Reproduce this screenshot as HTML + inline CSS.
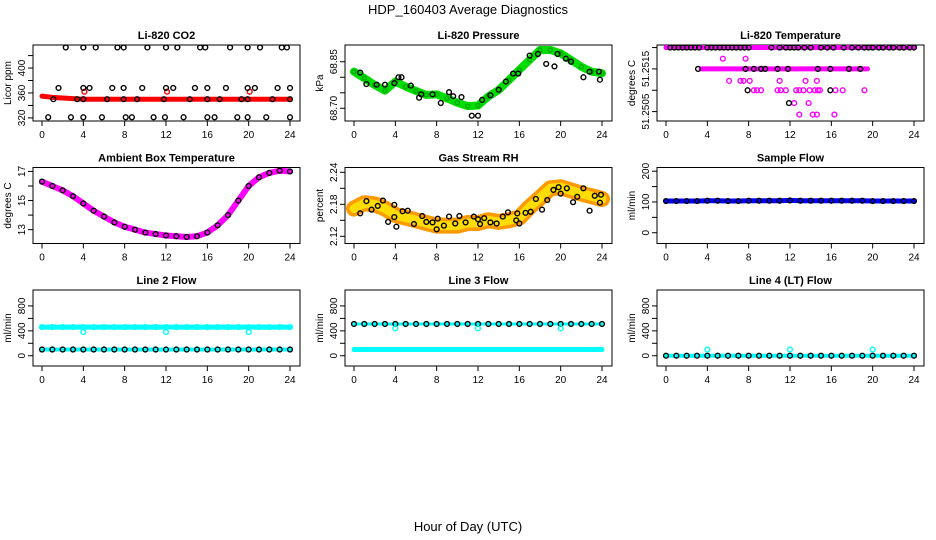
<!DOCTYPE html>
<html><head><meta charset="utf-8">
<style>
html,body{margin:0;padding:0;background:#fff;}
svg{display:block;font-family:"Liberation Sans",Arial,sans-serif;}
</style></head>
<body>
<svg id="c" width="936" height="540" viewBox="0 0 936 540">
<text x="468" y="14" text-anchor="middle" font-size="13">HDP_160403  Average Diagnostics</text>
<text x="468" y="531" text-anchor="middle" font-size="13">Hour of Day (UTC)</text>
</svg>
<script>
// ---------- data ----------
const hours = [0,1,2,3,4,5,6,7,8,9,10,11,12,13,14,15,16,17,18,19,20,21,22,23,24];
const xTickLabels = [0,4,8,12,16,20,24];

// CO2
const co2Red = [355,353,352,351,350,350,350,350,350,350,350,350,350,350,350,350,350,350,350,350,350,350,350,350,350];
const co2RedSpikeH = [4.1,12.1,20.1];
const co2RedSpikeV = [362,362,362];
const co2TopH = [2.3,4.0,5.2,7.3,7.9,10.2,12.0,13.1,15.3,15.8,18.2,19.9,21.1,23.2,23.7];
const co2TopV = 433;
const co2SqH = [1.6,4.0,4.6,6.8,7.9,9.7,12.0,12.7,14.8,16.0,17.8,19.9,20.6,22.8,24.0];
const co2SqV = 368;
const co2MidH = [1.1,3.4,4.0,6.3,7.9,9.2,11.8,14.3,16.0,17.2,19.3,19.9,22.3,24.0];
const co2MidV = 350;
const co2LowH = [0.6,2.8,4.0,5.8,8.1,8.7,10.8,11.9,13.7,16.0,16.7,18.9,19.9,21.7,24.0];
const co2LowV = 321;

// Pressure
const presGreen = [68.818,68.797,68.775,68.757,68.786,68.770,68.756,68.743,68.745,68.732,68.718,68.707,68.709,68.738,68.759,68.791,68.824,68.856,68.888,68.888,68.877,68.856,68.834,68.818,68.813];
const presBlackH = [0.6,1.2,2.2,3.0,3.9,4.3,4.6,5.5,6.3,6.5,7.6,8.4,9.2,9.6,10.4,11.4,12.0,12.4,13.2,14.0,14.7,15.4,15.9,17.0,17.8,18.6,19.4,19.7,20.5,21.0,22.2,22.8,23.7,23.8];
const presBlackV = [68.815,68.778,68.776,68.776,68.781,68.800,68.800,68.773,68.734,68.745,68.745,68.717,68.752,68.739,68.736,68.676,68.676,68.727,68.742,68.760,68.786,68.812,68.812,68.870,68.875,68.843,68.835,68.875,68.860,68.850,68.800,68.818,68.818,68.792];

// Li-820 temperature
const tLevels = [51.2520,51.25174,51.2515,51.25122,51.2510,51.2507,51.25043];
const tBlackTopH = [0.4,0.8,1.2,1.6,2.0,2.4,2.8,3.2,4.0,4.4,4.8,5.2,5.6,6.0,6.4,6.8,7.2,7.6,8.0,10.2,11.0,11.6,12.0,12.4,12.8,13.4,14.0,15.0,15.6,16.2,17.2,18.0,18.6,19.2,19.6,20.0,20.6,21.0,21.6,22.0,22.6,23.0,23.6,24.0];
const tMagTopRange = [0,24];
const tMag1515Range = [3.4,19.5];
const tBlack1515H = [3.1,7.7,8.5,9.2,9.6,10.8,11.8,14.7,15.9,17.7,18.8];
const tMag1517H = [5.5,7.7];
const tMag1512H = [6.1,7.2,7.5,8.1,11.0,13.5,14.6];
const tMag1510H = [8.5,8.8,9.2,10.8,11.1,11.6,12.6,12.9,13.3,13.9,14.4,14.7,14.9,16.4,17.1,19.2];
const tBlack1510H = [7.9,15.9];
const tMag1507H = [12.4,13.8];
const tBlack1507H = [11.9];
const tMag1504H = [12.9,14.2,14.6,16.3];

// Ambient box temperature
const ambient = [16.3,16.0,15.7,15.3,14.8,14.3,13.9,13.5,13.2,13.0,12.8,12.7,12.6,12.55,12.5,12.55,12.8,13.3,14.0,15.0,16.0,16.6,16.9,17.05,17.0];

// Gas stream RH
const rh = [2.172,2.182,2.180,2.172,2.160,2.155,2.150,2.145,2.140,2.140,2.140,2.145,2.145,2.150,2.147,2.150,2.155,2.175,2.192,2.210,2.212,2.206,2.200,2.195,2.190];
const rhBlackH = [0.6,1.2,1.7,2.3,2.8,3.3,3.9,3.9,4.1,4.7,5.2,5.8,6.6,7.0,7.6,8.0,8.1,8.7,9.2,9.8,10.2,10.8,11.6,12.0,12.2,12.6,13.2,13.8,14.4,14.9,15.7,15.8,16.0,16.6,17.1,17.6,18.2,18.7,19.3,19.8,20.0,20.6,21.2,21.6,22.2,22.8,23.3,23.8,23.9];
const rhBlackV = [2.163,2.186,2.170,2.177,2.187,2.147,2.179,2.156,2.138,2.167,2.168,2.143,2.158,2.147,2.146,2.133,2.153,2.140,2.157,2.144,2.158,2.146,2.157,2.152,2.143,2.154,2.146,2.144,2.157,2.165,2.150,2.163,2.144,2.164,2.166,2.190,2.170,2.188,2.207,2.212,2.200,2.210,2.184,2.194,2.210,2.168,2.196,2.183,2.198];

// Flows
const sampleFlow = [103,103,103,103,104,104,103,103,104,104,104,104,105,104,104,104,104,104,104,104,103,103,103,103,103];
const line2High = [460,460,460,460,460,460,460,460,460,460,460,460,460,460,460,460,460,460,460,460,460,460,460,460,460];
const line2DipH = [4,12,20];
const line2DipV = [380,380,380];
const line2Low = [100,100,100,100,100,100,100,100,100,100,100,100,100,100,100,100,100,100,100,100,100,100,100,100,100];
const line3High = [510,510,510,510,510,510,510,510,510,510,510,510,510,510,510,510,510,510,510,510,510,510,510,510,510];
const line3DipH = [4,12,20];
const line3DipV = [440,440,440];
const line3Low = [100,100,100,100,100,100,100,100,100,100,100,100,100,100,100,100,100,100,100,100,100,100,100,100,100];
const line4 = [0,0,0,0,0,0,0,0,0,0,0,0,0,0,0,0,0,0,0,0,0,0,0,0,0];
const line4SpikeH = [4,12,20];
const line4SpikeV = [100,100,100];

// ---------- drawing ----------
const svg = document.getElementById('c');
const NS = 'http://www.w3.org/2000/svg';
function mk(tag, attrs, parent){
  const e = document.createElementNS(NS, tag);
  for (const k in attrs) e.setAttribute(k, attrs[k]);
  (parent||svg).appendChild(e);
  return e;
}
function panel(col,row,title,ylab,ymin,ymax,ticks,labels,name){
  const L=33+312*col, R=300+312*col, T=45+122.5*row, B=121+122.5*row;
  const g = mk('g',{});
  
  
  const sx = h => 42+312*col + h*248/24;
  const sy = v => B - (v-ymin)/(ymax-ymin)*(B-T);
  const box = mk('rect',{x:L,y:T,width:R-L,height:B-T,fill:'none',stroke:'#000','stroke-width':1},g);
  
  
  const t = mk('text',{x:(L+R)/2,y:T-6,'text-anchor':'middle','font-size':11,'font-weight':'bold'},g);
  t.textContent = title;
  
  
  const yl = mk('text',{x:0,y:0,'text-anchor':'middle','font-size':10,transform:`translate(${L-22},${(T+B)/2}) rotate(-90)`},g);
  yl.textContent = ylab;
  
  
  xTickLabels.forEach(h=>{
    mk('line',{x1:sx(h),x2:sx(h),y1:B,y2:B+5,stroke:'#000'},g);
    const tx = mk('text',{x:sx(h),y:B+17,'text-anchor':'middle','font-size':10},g);
    tx.textContent = h;
    
    
  });
  ticks.forEach((v,i)=>{
    mk('line',{x1:L,x2:L-5,y1:sy(v),y2:sy(v),stroke:'#000'},g);
    if (labels[i]!==''){
      const ty = mk('text',{x:0,y:0,'text-anchor':'middle','font-size':10,transform:`translate(${L-8},${sy(v)}) rotate(-90)`},g);
      ty.textContent = labels[i];
      
      
    }
  });
  return {g,sx,sy};
}
function band(p,xs,ys,color,w,name){
  const pl = mk('polyline',{points:xs.map((h,i)=>p.sx(h)+','+p.sy(ys[i])).join(' '),fill:'none',stroke:color,'stroke-width':w,'stroke-linejoin':'round','stroke-linecap':'round'},p.g);
  
  
}
function pts(p,xs,ys,color,name,r){
  xs.forEach((h,i)=>{
    const v = Array.isArray(ys)?ys[i]:ys;
    const c = mk('circle',{cx:p.sx(h),cy:p.sy(v),r:r||2.4,fill:'none',stroke:color,'stroke-width':1.4},p.g);
    
    
  });
}

// Panel 1: CO2
let p = panel(0,0,'Li-820 CO2','Licor ppm',315,437,[320,340,360,380,400,420],['320','','360','','400',''],'co2');
band(p,hours,co2Red,'#f00',5,'co2-red-series');
pts(p,co2RedSpikeH,co2RedSpikeV,'#f00','co2-red-point');
pts(p,co2TopH,co2TopV,'#000','co2-black-point');
pts(p,co2SqH,co2SqV,'#000','co2-black-point');
pts(p,co2MidH,co2MidV,'#000','co2-black-point');
pts(p,co2LowH,co2LowV,'#000','co2-black-point');

// Panel 2: Pressure
p = panel(1,0,'Li-820 Pressure','kPa',68.659,68.904,[68.70,68.75,68.80,68.85],['68.70','','','68.85'],'pressure');
band(p,hours,presGreen,'#0d0',8,'pressure-green-series');
pts(p,hours,presGreen,'#0a0','pressure-green-point',2);
pts(p,presBlackH,presBlackV,'#000','pressure-black-point');

// Panel 3: Li-820 Temperature
p = panel(2,0,'Li-820 Temperature','degrees C',51.25028,51.25206,[51.2505,51.2510,51.2515,51.2520],['51.2505','','51.2515',''],'li820-temp');
band(p,tMagTopRange,[tLevels[0],tLevels[0]],'#f0f',5,'li820-temp-magenta-series');
band(p,tMag1515Range,[tLevels[2],tLevels[2]],'#f0f',5,'li820-temp-magenta-series');
pts(p,tBlackTopH,tLevels[0],'#000','li820-temp-black-point');
pts(p,tBlack1515H,tLevels[2],'#000','li820-temp-black-point');
pts(p,tMag1517H,tLevels[1],'#f0f','li820-temp-magenta-point');
pts(p,tMag1512H,tLevels[3],'#f0f','li820-temp-magenta-point');
pts(p,tMag1510H,tLevels[4],'#f0f','li820-temp-magenta-point');
pts(p,tBlack1510H,tLevels[4],'#000','li820-temp-black-point');
pts(p,tMag1507H,tLevels[5],'#f0f','li820-temp-magenta-point');
pts(p,tBlack1507H,tLevels[5],'#000','li820-temp-black-point');
pts(p,tMag1504H,tLevels[6],'#f0f','li820-temp-magenta-point');

// Panel 4: Ambient
p = panel(0,1,'Ambient Box Temperature','degrees C',12.05,17.27,[13,14,15,16,17],['13','','15','','17'],'ambient');
band(p,hours,ambient,'#f0f',6,'ambient-magenta-series');
pts(p,hours,ambient,'#000','ambient-black-point');

// Panel 5: Gas RH
p = panel(1,1,'Gas Stream RH','percent',2.1065,2.249,[2.12,2.15,2.18,2.21,2.24],['2.12','','2.18','','2.24'],'rh');
band(p,hours,rh,'#f90',16,'rh-orange-series');
band(p,hours,rh,'#fd0',9,'rh-yellow-series');
pts(p,rhBlackH,rhBlackV,'#000','rh-black-point');

// Panel 6: Sample flow
p = panel(2,1,'Sample Flow','ml/min',-35,212,[0,50,100,150,200],['0','','100','','200'],'sample-flow');
band(p,hours,sampleFlow,'#00f',5,'sample-flow-blue-series');
pts(p,hours,sampleFlow,'#000','sample-flow-black-point');

// Panel 7: Line 2
p = panel(0,2,'Line 2 Flow','ml/min',-165,1056,[0,200,400,600,800],['0','','400','','800'],'line2');
band(p,hours,line2High,'#0ff',5,'line2-cyan-series');
pts(p,hours,line2High,'#0ff','line2-cyan-point');
pts(p,line2DipH,line2DipV,'#0ff','line2-cyan-dip-point');
band(p,hours,line2Low,'#0ff',4,'line2-cyan-low-series');
pts(p,hours,line2Low,'#000','line2-black-point');

// Panel 8: Line 3
p = panel(1,2,'Line 3 Flow','ml/min',-165,1056,[0,200,400,600,800],['0','','400','','800'],'line3');
band(p,hours,line3Low,'#0ff',5,'line3-cyan-series');
band(p,hours,line3High,'#0ff',3,'line3-cyan-high-series');
pts(p,hours,line3High,'#000','line3-black-point');
pts(p,line3DipH,line3DipV,'#0ff','line3-cyan-dip-point');

// Panel 9: Line 4
p = panel(2,2,'Line 4 (LT) Flow','ml/min',-165,1056,[0,200,400,600,800],['0','','400','','800'],'line4');
band(p,hours,line4,'#0ff',4,'line4-cyan-series');
pts(p,hours,line4,'#000','line4-black-point');
pts(p,line4SpikeH,line4SpikeV,'#0ff','line4-cyan-point');
</script>
</body></html>
